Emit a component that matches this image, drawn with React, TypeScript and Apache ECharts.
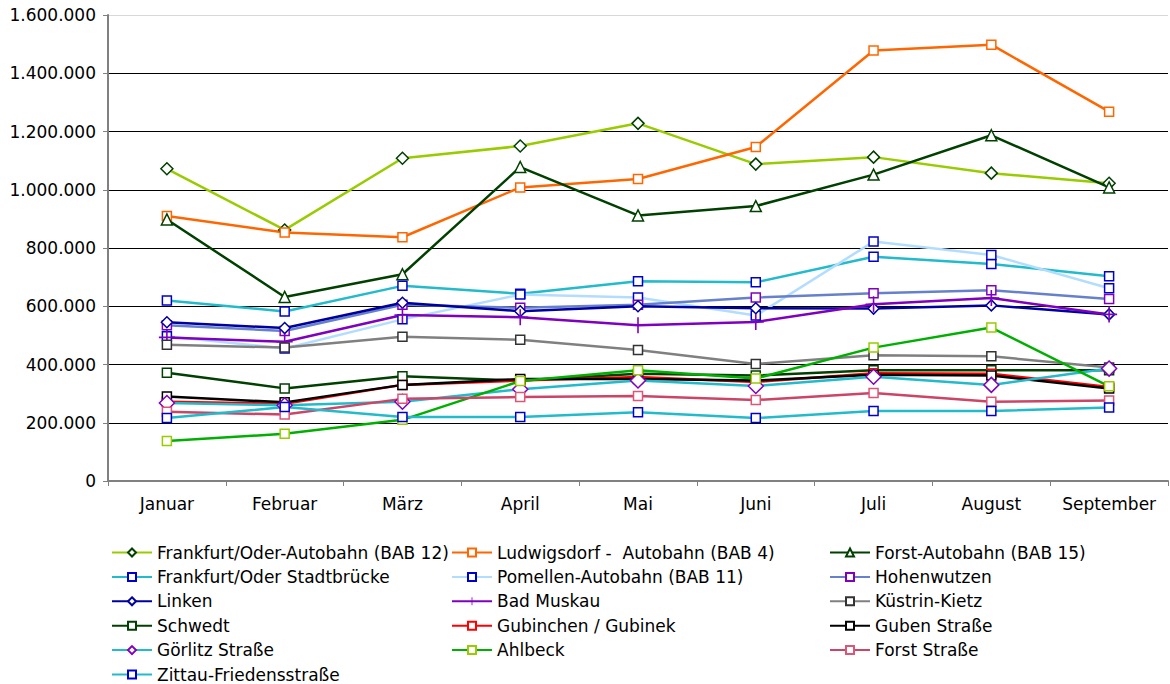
import React, { useEffect, useRef } from "react";
import * as echarts from "echarts";

const months = ["Januar", "Februar", "März", "April", "Mai", "Juni", "Juli", "August", "September"];
const yTicks = [0, 200000, 400000, 600000, 800000, 1000000, 1200000, 1400000, 1600000];

const frankfurtBAB12 = [1072000, 862000, 1108000, 1150000, 1228000, 1088000, 1112000, 1057000, 1022000];
const ludwigsdorf = [910000, 853000, 837000, 1008000, 1037000, 1147000, 1478000, 1498000, 1268000];
const forstBAB15 = [898000, 632000, 710000, 1078000, 912000, 944000, 1052000, 1187000, 1008000];
const stadtbruecke = [620000, 582000, 670000, 643000, 686000, 682000, 770000, 745000, 703000];
const pomellen = [497000, 455000, 555000, 640000, 630000, 568000, 822000, 776000, 662000];
const hohenwutzen = [535000, 515000, 605000, 595000, 605000, 630000, 645000, 655000, 625000];
const linken = [545000, 525000, 612000, 583000, 600000, 593000, 592000, 603000, 572000];
const badMuskau = [493000, 478000, 570000, 562000, 535000, 546000, 607000, 628000, 572000];
const kuestrin = [468000, 458000, 495000, 485000, 450000, 402000, 432000, 428000, 390000];
const schwedt = [372000, 318000, 360000, 345000, 368000, 362000, 380000, 380000, 380000];
const gubinchen = [272000, 265000, 330000, 345000, 357000, 340000, 370000, 368000, 323000];
const guben = [290000, 270000, 330000, 350000, 350000, 345000, 365000, 362000, 318000];
const goerlitz = [268000, 260000, 272000, 315000, 345000, 326000, 358000, 330000, 386000];
const ahlbeck = [137000, 162000, 210000, 343000, 380000, 352000, 458000, 527000, 325000];
const forstStrasse = [238000, 228000, 282000, 288000, 292000, 278000, 302000, 272000, 276000];
const zittau = [216000, 254000, 220000, 220000, 236000, 216000, 240000, 240000, 252000];

const seriesNames = [
  "Frankfurt/Oder-Autobahn (BAB 12)",
  "Ludwigsdorf -  Autobahn (BAB 4)",
  "Forst-Autobahn (BAB 15)",
  "Frankfurt/Oder Stadtbrücke",
  "Pomellen-Autobahn (BAB 11)",
  "Hohenwutzen",
  "Linken",
  "Bad Muskau",
  "Küstrin-Kietz",
  "Schwedt",
  "Gubinchen / Gubinek",
  "Guben Straße",
  "Görlitz Straße",
  "Ahlbeck",
  "Forst Straße",
  "Zittau-Friedensstraße",
];

const seriesData = [
  frankfurtBAB12, ludwigsdorf, forstBAB15, stadtbruecke, pomellen, hohenwutzen, linken, badMuskau,
  kuestrin, schwedt, gubinchen, guben, goerlitz, ahlbeck, forstStrasse, zittau,
];

const PLUS = "path://M9,0 L11,0 L11,20 L9,20 Z M0,9 L20,9 L20,11 L0,11 Z";

// [lineColor, symbol, markerBorder, symbolSize]
const styles: [string, string, string, number][] = [
  ["#99CC00", "diamond", "#004000", 12],
  ["#FF6600", "rect", "#FF6600", 9],
  ["#004000", "triangle", "#004000", 11],
  ["#22BBCC", "rect", "#0000CC", 9],
  ["#B3DDFF", "rect", "#0000CC", 9],
  ["#6680CC", "rect", "#8000C0", 9],
  ["#0000A0", "diamond", "#0000A0", 11],
  ["#7F00BF", PLUS, "#7F00BF", 16],
  ["#808080", "rect", "#333333", 9],
  ["#004000", "rect", "#004000", 9],
  ["#FF0000", "rect", "#FF0000", 9],
  ["#000000", "rect", "#000000", 9],
  ["#22BBCC", "diamond", "#8000C0", 15],
  ["#00B000", "rect", "#99CC00", 9],
  ["#CC4466", "rect", "#DD5577", 9],
  ["#22BBCC", "rect", "#0000CC", 9],
];

function fmt(v: number): string {
  return String(Math.round(v)).replace(/\B(?=(\d{3})+(?!\d))/g, ".");
}

const FONT = "DejaVu Sans";

export default function App() {
  const ref = useRef<HTMLDivElement>(null);
  useEffect(() => {
    if (!ref.current) return;
    const chart = echarts.init(ref.current, null, { renderer: "svg" });
    const series = seriesNames.map((name, i) => {
      const [lc, sym, mb, size] = styles[i];
      const isPlus = sym === PLUS;
      return {
        name,
        type: "line",
        data: seriesData[i],
        symbol: sym,
        symbolSize: size,
        showAllSymbol: true,
        lineStyle: { color: lc, width: 2.5 },
        itemStyle: isPlus
          ? { color: mb, borderWidth: 0 }
          : { color: "#ffffff", borderColor: mb, borderWidth: 1.5 },
        emphasis: { disabled: true },
      };
    });
    const col = (k: number) => seriesNames.filter((_, i) => i % 3 === k);
    const legendBase = {
      orient: "vertical",
      top: 544,
      height: 150,
      padding: 0,
      itemWidth: 40,
      itemHeight: 10,
      itemGap: 7.4,
      textStyle: { fontFamily: FONT, fontSize: 17, color: "#000", lineHeight: 16 },
      selectedMode: false,
    };
    chart.setOption({
      animation: false,
      backgroundColor: "#ffffff",
      grid: { left: 108, right: 2, top: 15, bottom: 203, containLabel: false },
      legend: [
        { ...legendBase, left: 111, data: col(0) },
        { ...legendBase, left: 451, data: col(1) },
        { ...legendBase, left: 829, data: col(2) },
      ],
      xAxis: {
        type: "category",
        data: months,
        boundaryGap: true,
        axisLine: { lineStyle: { color: "#808080", width: 2 } },
        axisTick: { show: true, length: 5, lineStyle: { color: "#808080", width: 1 } },
        axisLabel: { interval: 0, fontFamily: FONT, fontSize: 17, color: "#000", margin: 14 },
      },
      yAxis: {
        type: "value",
        min: yTicks[0],
        max: yTicks[yTicks.length - 1],
        interval: 200000,
        axisLine: { show: true, lineStyle: { color: "#808080", width: 2 } },
        axisTick: { show: true, length: 5, lineStyle: { color: "#808080" } },
        axisLabel: { fontFamily: FONT, fontSize: 17, color: "#000", margin: 12, formatter: (v: number) => fmt(v) },
        splitLine: {
          show: true,
          lineStyle: {
            color: ["#000", "#000", "#000", "#000", "#000", "#000", "#000", "#000", "#d8d8d8"],
            width: 1,
          },
        },
      },
      series,
    });
    return () => chart.dispose();
  }, []);
  return (
    <div
      ref={ref}
      style={{ position: "fixed", left: 0, top: 0, width: 1170, height: 684, background: "#fff" }}
    />
  );
}
